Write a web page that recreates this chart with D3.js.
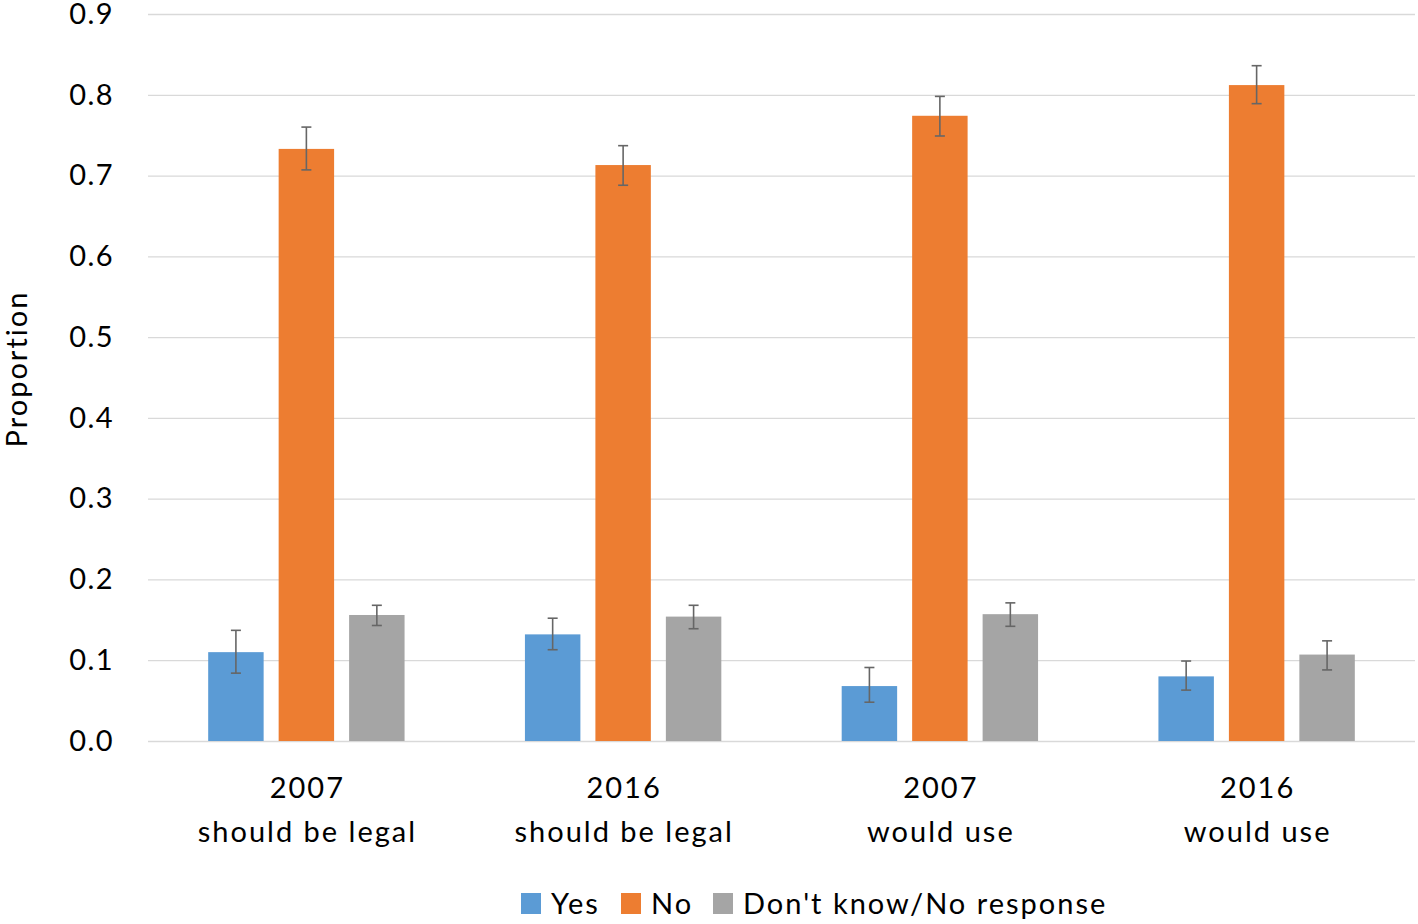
<!DOCTYPE html>
<html><head><meta charset="utf-8">
<script src="https://cdn.jsdelivr.net/npm/d3@7"></script>
<style>
html,body{margin:0;padding:0;background:#fff;}
svg text{font-family:Lato,"Open Sans",sans-serif;fill:#000;}
</style></head>
<body><svg id="chart" width="1418" height="924"></svg>
<script>
// ---- data ----
const groupYears = ["2007", "2016", "2007", "2016"];
const groupQuestions = ["should be legal", "should be legal", "would use", "would use"];
const seriesNames = ["Yes", "No", "Don't know/No response"];
const yesValues = [0.110, 0.132, 0.068, 0.080];
const noValues  = [0.733, 0.713, 0.774, 0.812];
const dkValues  = [0.156, 0.154, 0.157, 0.107];
const yesLow  = [0.084, 0.113, 0.048, 0.063];
const yesHigh = [0.137, 0.152, 0.091, 0.099];
const noLow   = [0.707, 0.688, 0.749, 0.789];
const noHigh  = [0.760, 0.737, 0.798, 0.836];
const dkLow   = [0.143, 0.139, 0.142, 0.088];
const dkHigh  = [0.168, 0.168, 0.171, 0.124];
const yTicks = [0, 0.1, 0.2, 0.3, 0.4, 0.5, 0.6, 0.7, 0.8, 0.9];
const colors = ["#5b9bd5", "#ed7d31", "#a5a5a5"];

(function () {
const values = [yesValues, noValues, dkValues];
const lows = [yesLow, noLow, dkLow];
const highs = [yesHigh, noHigh, dkHigh];
const groups = groupYears.map((y, i) => i);

const svg = d3.select("#chart");
const mLeft = 148, mRight = 1415, mTop = 14, mBottom = 741;

const x0 = d3.scaleBand().domain(groups).range([mLeft, mRight]).paddingInner(0.38).paddingOuter(0.19);
const x1 = d3.scaleBand().domain([0, 1, 2]).range([0, x0.bandwidth()]).paddingInner(0.213).paddingOuter(0);
const y = d3.scaleLinear().domain([0, 0.9]).range([mBottom, mTop]);

// gridlines + tick labels
const yAxis = d3.axisLeft(y).tickValues(yTicks).tickFormat(d3.format(".1f"))
  .tickSize(-(mRight - mLeft)).tickPadding(34);
const ga = svg.append("g").attr("transform", `translate(${mLeft},0)`).call(yAxis);
ga.select(".domain").remove();
ga.selectAll(".tick line").attr("stroke", "#d9d9d9").attr("stroke-width", 1.3);
ga.selectAll(".tick text").attr("font-size", 29).attr("fill", "#000").attr("font-family", "Lato")
  .attr("letter-spacing", 1.4);

// bars
const dataFlat = [];
groups.forEach(g => [0, 1, 2].forEach(s => dataFlat.push({g, s, v: values[s][g], lo: lows[s][g], hi: highs[s][g]})));

svg.append("g").selectAll("rect").data(dataFlat).join("rect")
  .attr("x", d => x0(d.g) + x1(d.s))
  .attr("y", d => y(d.v))
  .attr("width", x1.bandwidth())
  .attr("height", d => y(0) - y(d.v))
  .attr("fill", d => colors[d.s]);

// error bars
const eb = svg.append("g").attr("stroke", "#666").attr("stroke-width", 1.6);
dataFlat.forEach(d => {
  const cx = x0(d.g) + x1(d.s) + x1.bandwidth() / 2;
  eb.append("line").attr("x1", cx).attr("x2", cx).attr("y1", y(d.hi)).attr("y2", y(d.lo));
  eb.append("line").attr("x1", cx - 5).attr("x2", cx + 5).attr("y1", y(d.hi)).attr("y2", y(d.hi));
  eb.append("line").attr("x1", cx - 5).attr("x2", cx + 5).attr("y1", y(d.lo)).attr("y2", y(d.lo));
});

// category labels
const cat = svg.append("g").attr("letter-spacing", 2);
groups.forEach(g => {
  const cx = x0(g) + x0.bandwidth() / 2 + 1;
  cat.append("text").attr("x", cx).attr("y", 798).attr("text-anchor", "middle").attr("font-size", 29).text(groupYears[g]);
  cat.append("text").attr("x", cx).attr("y", 842).attr("text-anchor", "middle").attr("font-size", 29).text(groupQuestions[g]);
});

// y axis title
svg.append("text").attr("transform", "translate(27,369) rotate(-90)").attr("text-anchor", "middle")
  .attr("font-size", 29).attr("letter-spacing", 2).text("Proportion");

// legend
const legendX = [521, 621, 713];
const lg = svg.append("g");
seriesNames.forEach((n, i) => {
  lg.append("rect").attr("x", legendX[i]).attr("y", 893).attr("width", 20).attr("height", 21).attr("fill", colors[i]);
  lg.append("text").attr("x", legendX[i] + 30).attr("y", 914).attr("font-size", 29).attr("letter-spacing", 2).text(n);
});
})();
</script></body></html>
